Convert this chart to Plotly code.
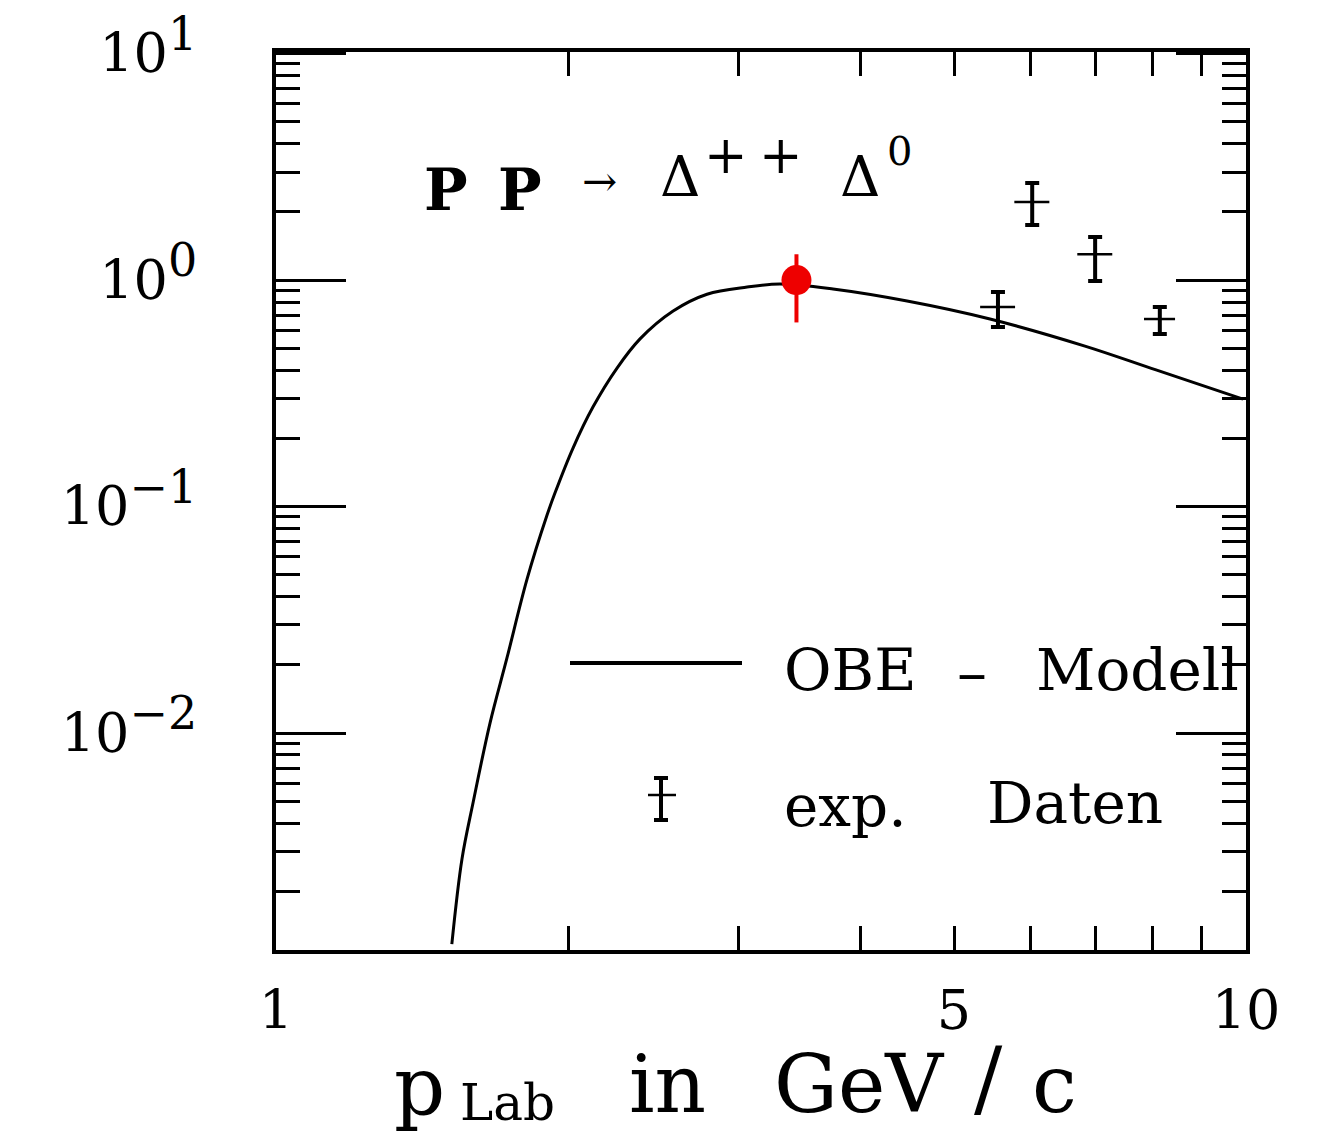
import plotly.graph_objects as go

# ---------------- data ----------------
curve_x = [1.518, 1.555, 1.597, 1.662, 1.730, 1.815, 1.903, 1.939, 2.024, 2.122,
           2.247, 2.373, 2.567, 2.782, 3.060, 3.308, 3.752, 4.473, 5.446, 6.823, 8.077, 9.93]
curve_y = [0.00117, 0.00278, 0.00496, 0.01107, 0.0214, 0.0479, 0.0917, 0.1147, 0.1813, 0.2749,
           0.4088, 0.550, 0.730, 0.866, 0.931, 0.960, 0.913, 0.808, 0.673, 0.511, 0.401, 0.298]

exp_x = [5.55, 6.02, 6.99, 8.15]
exp_y = [0.760, 2.21, 1.30, 0.673]
exp_err_plus = [0.125, 0.47, 0.25, 0.087]
exp_err_minus = [0.14, 0.46, 0.31, 0.095]
exp_xerr = [0.23, 0.25, 0.29, 0.30]

red_x = [3.44]
red_y = [1.0]
red_err_plus = [0.30]
red_err_minus = [0.35]

y_tickvals = [0.01, 0.1, 1, 10]
y_exponents = ["−2", "−1", "0", "1"]
x_tickvals = [1, 5, 10]
x_ticktext = ["1", "5", "10"]

# ---------------- layout helpers ----------------
W, H = 1321, 1132
L, R, T, B = 276, 1246, 52, 950
FONT = "DejaVu Serif"


def px(x):
    return (x - L) / (R - L)


def py(y):
    return (B - y) / (B - T)


y_ticktext = ['10<sup><span style="font-size:46px">%s</span></sup>' % e for e in y_exponents]

fig = go.Figure()

fig.add_trace(go.Scatter(
    x=curve_x, y=curve_y, mode="lines",
    line=dict(color="black", width=3, shape="spline", smoothing=1.0),
    showlegend=False, hoverinfo="skip"))

fig.add_trace(go.Scatter(
    x=exp_x, y=exp_y, mode="markers",
    marker=dict(size=1, color="black"),
    error_y=dict(type="data", symmetric=False, array=exp_err_plus, arrayminus=exp_err_minus,
                 color="black", thickness=4, width=7),
    error_x=dict(type="data", array=exp_xerr, color="black", thickness=2.5, width=0),
    showlegend=False, hoverinfo="skip"))

fig.add_trace(go.Scatter(
    x=red_x, y=red_y, mode="markers",
    marker=dict(size=30, color="#ee0000"),
    error_y=dict(type="data", symmetric=False, array=red_err_plus, arrayminus=red_err_minus,
                 color="#ee0000", thickness=4, width=0),
    showlegend=False, hoverinfo="skip"))

minor_y = [m * 10 ** e for e in range(-3, 1) for m in range(2, 10)]
minor_x = [2, 3, 4, 6, 7, 8, 9]

fig.update_xaxes(
    type="log", range=[0, 1], automargin=False,
    tickvals=x_tickvals, ticktext=x_ticktext,
    ticks="inside", ticklen=24, tickwidth=3, tickcolor="black",
    showline=True, linewidth=4, linecolor="black", mirror="ticks",
    showgrid=False, zeroline=False,
    tickfont=dict(family=FONT, size=54, color="black"),
    ticklabelstandoff=10,
    minor=dict(tickvals=minor_x, ticks="inside", ticklen=24, tickwidth=3,
               tickcolor="black", showgrid=False),
)
fig.update_yaxes(
    type="log", range=[-2.958, 1.007], automargin=False,
    tickvals=y_tickvals, ticktext=y_ticktext,
    ticks="inside", ticklen=70, tickwidth=3, tickcolor="black",
    showline=True, linewidth=4, linecolor="black", mirror="ticks",
    showgrid=False, zeroline=False,
    tickfont=dict(family=FONT, size=54, color="black"),
    ticklabelstandoff=64,
    minor=dict(tickvals=minor_y, ticks="inside", ticklen=24, tickwidth=2.5,
               tickcolor="black", showgrid=False),
)

annotations = []


def txt(text, x, y, size, xanchor="left", yanchor="middle"):
    annotations.append(dict(text=text, x=px(x), y=py(y), xref="paper", yref="paper",
                            showarrow=False, xanchor=xanchor, yanchor=yanchor,
                            font=dict(family=FONT, size=size, color="black")))


# reaction label
txt("<b>P</b>", 422, 190, 58)
txt("<b>P</b>", 496, 190, 58)
txt("→", 580, 181, 42)
txt("Δ", 658, 176, 56)
txt("+", 702, 155, 52)
txt("+", 757, 155, 52)
txt("Δ", 838, 176, 56)
txt("0", 885, 151, 40)

# legend text
txt("OBE", 782, 670, 58)
txt("–", 972, 672, 60, xanchor="center")
txt("Modell", 1034, 670, 58)
txt("exp.", 782, 806, 58)
txt("Daten", 985, 803, 58)

# axis title (pieces)
txt("p", 392, 1086, 80)
txt("Lab", 458, 1103, 50)
txt("in", 627, 1084, 80)
txt("GeV", 772, 1084, 80)
txt("/", 988, 1078, 84, xanchor="center")
txt("c", 1030, 1084, 80)

shapes = []
# legend line
shapes.append(dict(type="line", xref="paper", yref="paper",
                   x0=px(570), x1=px(742), y0=py(663), y1=py(663),
                   line=dict(color="black", width=4)))
# legend error-bar symbol
shapes.append(dict(type="line", xref="paper", yref="paper",
                   x0=px(661), x1=px(661), y0=py(778), y1=py(820),
                   line=dict(color="black", width=4)))
for yy in (778, 820):
    shapes.append(dict(type="line", xref="paper", yref="paper",
                       x0=px(654), x1=px(668), y0=py(yy), y1=py(yy),
                       line=dict(color="black", width=4)))
shapes.append(dict(type="line", xref="paper", yref="paper",
                   x0=px(648), x1=px(676), y0=py(795), y1=py(795),
                   line=dict(color="black", width=2.5)))

fig.update_layout(
    width=W, height=H,
    margin=dict(l=L, r=W - R, t=T, b=H - B),
    paper_bgcolor="white", plot_bgcolor="white",
    showlegend=False,
    annotations=annotations, shapes=shapes,
)

fig.write_html("out.html")
